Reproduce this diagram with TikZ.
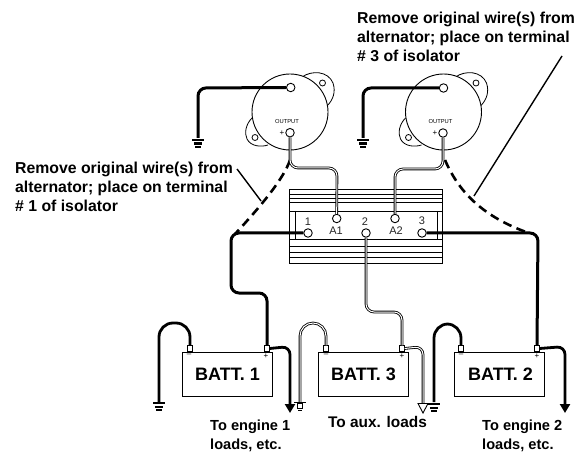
\documentclass[tikz,border=0pt]{standalone}
\usepackage{fontspec}
\setmainfont{Liberation Sans}
\usetikzlibrary{arrows.meta}
\tikzset{
  x=1pt,y=-1pt,
  term/.style={circle,draw,fill=white,line width=.9pt,minimum size=8.5pt,inner sep=0pt},
  hole/.style={circle,draw,fill=white,line width=.8pt,minimum size=6pt,inner sep=0pt},
  post/.style={rectangle,draw,fill=white,line width=.8pt,minimum width=4.5pt,minimum height=5.5pt,inner sep=0pt},
  batt/.style={rectangle,draw,fill=white,line width=.9pt,minimum width=90pt,minimum height=44pt,inner sep=0pt,font=\fontsize{18}{20}\selectfont\bfseries},
  note/.style={align=left,anchor=north west,inner sep=0pt,font=\fontsize{15.8}{19}\selectfont\bfseries},
  lab/.style={inner sep=0pt,anchor=north west,align=left,font=\fontsize{14.6}{19.2}\selectfont\bfseries},
  tlab/.style={inner sep=0pt,font=\fontsize{11}{12}\selectfont,text=black!85},
  tiny/.style={inner sep=0pt,font=\fontsize{5.8}{6}\selectfont},
  heavy/.style={line width=3pt,rounded corners=8pt},
  medium/.style={line width=2.8pt,rounded corners=8pt},
  coax/.style={draw=black,line width=.85pt,double=white,double distance=1pt,rounded corners=8pt},
  dashw/.style={line width=2.6pt,dash pattern=on 9pt off 5.5pt},
  leader/.style={line width=1.4pt},
  fin/.style={line width=.9pt},
  gnd/.pic={\draw[line width=2.2pt] (-6,0)--(6,0) (-4.2,3.6)--(4.2,3.6);\draw[line width=2pt] (-2.6,7)--(2.6,7);},
  solidtip/.style={-{Triangle[length=9pt,width=10pt]}}
}
\begin{document}
\begin{tikzpicture}
\useasboundingbox (0,0) rectangle (583,454);
% alternators
\foreach \dx/\nm in {0/L,153.5/R}{
\begin{scope}[xshift=\dx pt]
\draw[line width=.8pt,fill=white] (302,77) .. controls (312,70) and (328,71) .. (333,83) .. controls (336,92) and (333,100) .. (327,106);
\draw[line width=.8pt,fill=white] (252,118) .. controls (246,124) and (244,133) .. (247,139) .. controls (251,147) and (262,147) .. (268,145);
\draw[line width=.9pt,fill=white] (290,112) circle[radius=38];
\node[hole] (ear1\nm) at (322.5,83) {};
\node[hole] (ear2\nm) at (255,137.5) {};
\node[tiny] (out\nm) at (287,122) {OUTPUT};
\end{scope}
}
\node[inner sep=0pt,font=\fontsize{8}{9}\selectfont] (plL) at (282,133) {+};
\node[inner sep=0pt,font=\fontsize{8}{9}\selectfont] (plR) at (435,133) {+};
% coordinates for the free ends
\coordinate (gL) at (198,138);
\coordinate (gR) at (363,138);
\coordinate (gB1) at (159,402);
\coordinate (gB3) at (300,402);
\coordinate (gB2) at (434,402);
\coordinate (ldB1) at (290,413);
\coordinate (ldB3) at (423,413);
\coordinate (ldB2) at (565,413);
% isolator
\draw[line width=.9pt,fill=white] (289,189) rectangle (442,263);
\foreach \yy in {194,198,202,211,239,246,252,257}{\draw[fin] (289,\yy)--(442,\yy);}
\draw[fin] (295,211)--(295,239) (437,211)--(437,239);
% terminals
\node[term] (altL) at (290.7,87.5) {};
\node[term] (altR) at (443.5,88) {};
\node[term] (outpL) at (290,132.7) {};
\node[term] (outpR) at (443,133) {};
\node[term] (A1) at (336.7,218.5) {};
\node[term] (A2) at (395,218.5) {};
\node[term] (T1) at (308,233) {};
\node[term] (T2) at (366,233) {};
\node[term] (T3) at (422,233) {};
\node[tlab] (n1) at (308,222) {1};
\node[tlab] (n2) at (365,222) {2};
\node[tlab] (n3) at (422,221) {3};
\node[tlab] (nA1) at (336,230.5) {A1};
\node[tlab] (nA2) at (396,231) {A2};
% batteries
\node[batt] (B1) at (227.5,374) {\raisebox{-1.5pt}{BATT. 1}};
\node[batt] (B3) at (363.5,374) {\raisebox{-1pt}{BATT. 3}};
\node[batt] (B2) at (499,374) {\raisebox{-2pt}{\hspace{3pt}BATT. 2}};
\node[post] (n1p) at (190,348.5) {};
\node[post] (p1p) at (267,348.5) {};
\node[post] (n3p) at (326,348.5) {};
\node[post] (p3p) at (402,348.5) {};
\node[post] (n2p) at (461,348.5) {};
\node[post] (p2p) at (537,348.5) {};
\node[inner sep=0pt,font=\fontsize{8}{9}\selectfont] (m1) at (189,355) {–};
\node[inner sep=0pt,font=\fontsize{8}{9}\selectfont] (m3) at (326,355) {–};
\node[inner sep=0pt,font=\fontsize{8}{9}\selectfont] (m2) at (461,355) {–};
\node[inner sep=0pt,font=\fontsize{8}{9}\selectfont] (q1) at (266,356) {+};
\node[inner sep=0pt,font=\fontsize{8}{9}\selectfont] (q3) at (402,356) {+};
\node[inner sep=0pt,font=\fontsize{8}{9}\selectfont] (q2) at (537,356) {+};
% ground wires of alternators
\draw[heavy] (altL.west) -- (198,88) -- (gL);
\draw[heavy] (altR.west) -- (363,88) -- (gR);
\pic at (198,140) {gnd};
\pic at (363,140) {gnd};
% dashed removed wires
\draw[dashw] (outpL.south |- 0,160) .. controls (284,178) and (262,205) .. (235,234);
\draw[dashw] (445,160) .. controls (458,190) and (480,215) .. (526,232);
% leaders
\draw[leader] (237,169) -- (261,201);
\draw[leader] (562,56) -- (474,196);
% isolator wires
\draw[coax] (outpL.south) -- (290,168) -- (337,168) -- (A1.north);
\draw[coax] (outpR.south) -- (443,169) -- (395,169) -- (A2.north);
\draw[heavy] (T1.west) -- (231,233) -- (231,293) -- (267,293) -- (p1p.north);
\draw[coax] (T2.south) -- (366,312) -- (402,312) -- (p3p.north);
\draw[heavy] (T3.east) -- (538,233) -- (p2p.north);
% battery negatives
\draw[medium,rounded corners=14pt] (n1p.north) -- (190,323) -- (159,323) -- (gB1);
\pic at (159,403) {gnd};
\draw[coax,rounded corners=13pt] (n3p.north) -- (326,323) -- (300,323) -- (gB3);
\draw[line width=1.2pt] (294,402.5)--(306,402.5);
\draw[line width=.9pt,fill=white] (297.5,403) rectangle (302.5,408);
\draw[line width=1.2pt] (298,410.5)--(302,410.5);
\draw[medium,rounded corners=14pt] (n2p.north) -- (461,324) -- (434,324) -- (gB2);
\pic at (434,404) {gnd};
% battery loads
\draw[medium,solidtip] (p1p.east) -- (290,346.5) -- (ldB1);
\draw[coax] (p3p.east) -- (423,346.5) -- (423,404);
\draw[line width=.9pt,fill=white] (418,403.5) -- (428,403.5) -- (ldB3) -- cycle;
\draw[medium,solidtip] (p2p.east) -- (565,346.5) -- (ldB2);
% texts
\node[note] (txtL) at (15,161.5) {Remove original wire(s) from\\alternator; place on terminal\\\# 1 of isolator};
\node[note] (txtR) at (357,12) {Remove original wire(s) from\\alternator; place on terminal\\\# 3 of isolator};
\node[lab] (ld1) at (210,420) {To engine 1\\loads, etc.};
\node[lab,font=\fontsize{15.4}{19}\selectfont\bfseries] (ld3) at (328,416) {To aux. loads};
\node[lab] (ld2) at (482,420) {To engine 2\\loads, etc.};
\end{tikzpicture}
\end{document}
